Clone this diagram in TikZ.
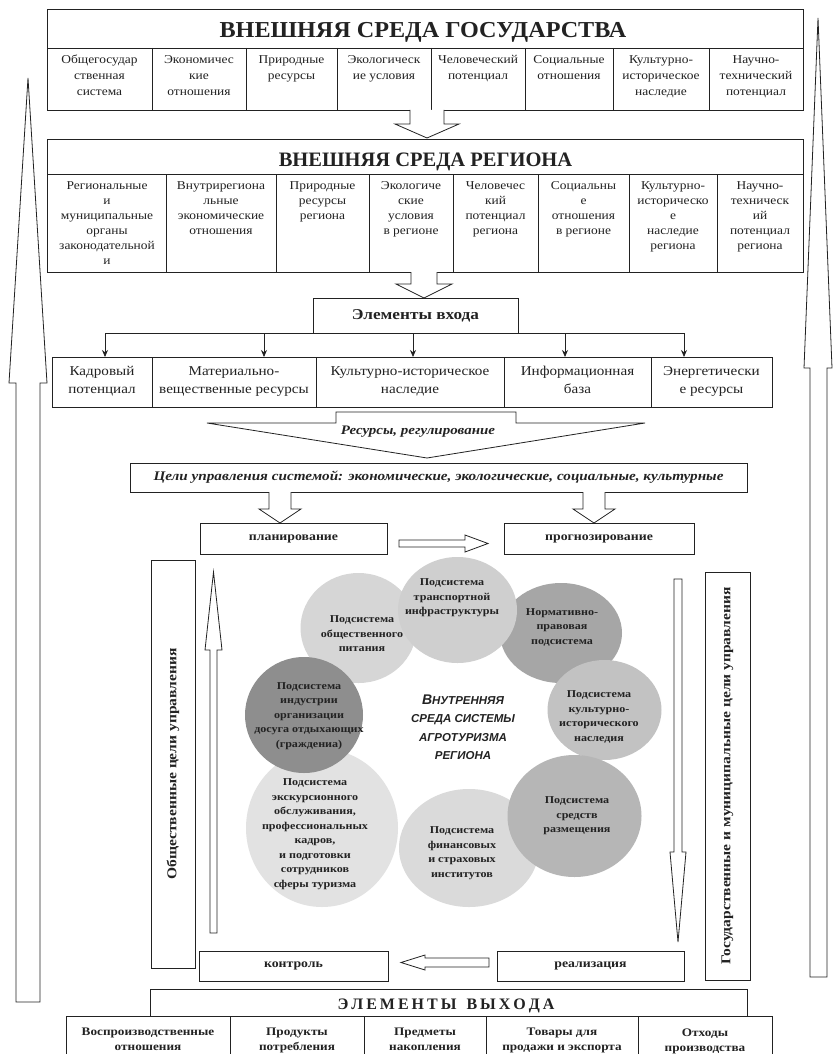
\documentclass[tikz,border=0pt]{standalone}
\usepackage{fontspec}
\setmainfont{Liberation Serif}
\newfontfamily\cellf[FakeStretch=1.12]{Liberation Serif}
\newfontfamily\boldf[FakeStretch=1.15]{Liberation Serif}
\newfontfamily\hdrf[FakeStretch=1.06]{Liberation Serif}
\newfontfamily\sansf{Liberation Sans}
\usetikzlibrary{arrows.meta,shapes.geometric}
\definecolor{cA}{HTML}{CFCFCF}
\definecolor{cB}{HTML}{D6D6D6}
\definecolor{cC}{HTML}{A6A6A6}
\definecolor{cD}{HTML}{C2C2C2}
\definecolor{cE}{HTML}{B6B6B6}
\definecolor{cF}{HTML}{DADADA}
\definecolor{cG}{HTML}{E2E2E2}
\definecolor{cH}{HTML}{8E8E8E}
\definecolor{ink}{HTML}{222222}
\begin{document}
\begin{tikzpicture}[x=1pt,y=-1pt,line width=0.8pt,color=ink,
  txt/.style={inner sep=0pt,align=center},
  topcell/.style={txt,anchor=north,font=\cellf\fontsize{12}{16}\selectfont},
  regcell/.style={txt,anchor=north,font=\cellf\fontsize{12}{15}\selectfont},
  incell/.style={txt,anchor=north,font=\cellf\fontsize{13.5}{18}\selectfont},
  boxb/.style={draw,inner sep=0pt,font=\boldf\bfseries\fontsize{12}{14}\selectfont},
  outcell/.style={txt,anchor=north,font=\boldf\bfseries\fontsize{11.5}{15}\selectfont},
  ctext/.style={txt,font=\boldf\bfseries\fontsize{10.5}{14.5}\selectfont},
  blob/.style={ellipse,inner sep=0pt},
  hollow/.style={draw,fill=white,line join=miter},
  downarr/.style={-{Stealth[length=7pt,width=6pt]}},
  sidebox/.style={draw,rotate=90,inner sep=0pt,font=\boldf\bfseries\fontsize{13.5}{16}\selectfont},
]
\fill[white] (0,0) rectangle (833,1054);
\useasboundingbox (0,0) rectangle (833,1054);

% big outer arrows
\draw[hollow] (16,1002) -- (16,383) -- (9,383) -- (28,78) -- (47,383) -- (40,383) -- (40,1002) -- cycle;
\draw[hollow] (810,977) -- (810,368) -- (804,368) -- (818,18) -- (832,368) -- (827,368) -- (827,977) -- cycle;

% state environment
\draw (47,9) rectangle (803,110);
\draw (47,48) -- (803,48);
\foreach \x in {152,246,337,431,525,613,709} \draw (\x,48) -- (\x,110);
\node[txt,anchor=base,font=\hdrf\bfseries\fontsize{22.8}{26}\selectfont] (gos) at (423,38) {ВНЕШНЯЯ СРЕДА ГОСУДАРСТВА};
\node[topcell] (g1) at (99.5,55) {Общегосудар\\ственная\\система};
\node[topcell] (g2) at (199,55) {Экономичес\\кие\\отношения};
\node[topcell] (g3) at (291.5,55) {Природные\\ресурсы};
\node[topcell] (g4) at (384,55) {Экологическ\\ие условия};
\node[topcell] (g5) at (478,55) {Человеческий\\потенциал};
\node[topcell] (g6) at (569,55) {Социальные\\отношения};
\node[topcell] (g7) at (661,55) {Культурно-\\историческое\\наследие};
\node[topcell] (g8) at (756,55) {Научно-\\технический\\потенциал};

\draw[hollow] (410,110) -- (410,124) -- (395,124) -- (427,138) -- (459,124) -- (444,124) -- (444,110);

% region environment
\draw (47,139) rectangle (803,272);
\draw (47,174) -- (803,174);
\foreach \x in {166,276,369,453,538,629,717} \draw (\x,174) -- (\x,272);
\node[txt,anchor=base,font=\bfseries\fontsize{20.5}{24}\selectfont] (reg) at (425.5,166) {ВНЕШНЯЯ СРЕДА РЕГИОНА};
\node[regcell] (r1) at (107,181) {Региональные\\и\\муниципальные\\органы\\законодательной\\и};
\node[regcell] (r2) at (221,181) {Внутрирегиона\\льные\\экономические\\отношения};
\node[regcell] (r3) at (322.5,181) {Природные\\ресурсы\\региона};
\node[regcell] (r4) at (411,181) {Экологиче\\ские\\условия\\в регионе};
\node[regcell] (r5) at (495.5,181) {Человечес\\кий\\потенциал\\региона};
\node[regcell] (r6) at (583.5,181) {Социальны\\е\\отношения\\в регионе};
\node[regcell] (r7) at (673,181) {Культурно-\\историческо\\е\\наследие\\региона};
\node[regcell] (r8) at (760,181) {Научно-\\техническ\\ий\\потенциал\\региона};

\draw[hollow] (411,272) -- (411,284) -- (396,284) -- (424,298) -- (452,284) -- (437,284) -- (437,272);

% input elements
\node[draw,minimum width=205pt,minimum height=35pt,inner sep=0pt,font=\boldf\bfseries\fontsize{15}{18}\selectfont] (ev) at (415.5,315.5) {Элементы входа};
\coordinate (b1) at (105,333);
\coordinate (b2) at (264,333);
\coordinate (b3) at (413,333);
\coordinate (b4) at (565,333);
\coordinate (b5) at (684,333);
\coordinate (i1) at (105,357);
\coordinate (i2) at (264,357);
\coordinate (i3) at (413,357);
\coordinate (i4) at (565,357);
\coordinate (i5) at (684,357);
\draw (b1) -- (b5);
\foreach \i in {1,...,5} \draw[downarr] (b\i) -- (i\i);
\draw (52,357) rectangle (772,407);
\foreach \x in {152,316,504,651} \draw (\x,357) -- (\x,407);
\node[incell] (in1) at (102,366) {Кадровый\\потенциал};
\node[incell] (in2) at (234,366) {Материально-\\вещественные ресурсы};
\node[incell] (in3) at (410,366) {Культурно-историческое\\наследие};
\node[incell] (in4) at (577.5,366) {Информационная\\база};
\node[incell] (in5) at (711.5,366) {Энергетически\\е ресурсы};

% resources arrow
\draw[line join=miter] (207,423) -- (336,423) -- (336,412) -- (516,412) -- (516,423) -- (645,423) -- (427,458) -- cycle;
\node[txt,font=\boldf\bfseries\itshape\fontsize{13}{15}\selectfont] (res) at (418,432) {Ресурсы, регулирование};

% goals
\node[draw,minimum width=617pt,minimum height=29pt,inner sep=0pt,font=\boldf\bfseries\itshape\fontsize{13.2}{15}\selectfont] (goals) at (438.5,477.5) {Цели управления системой: экономические, экологические, социальные, культурные};

\draw[hollow] (269,492) -- (269,509) -- (259,509) -- (280,523) -- (301,509) -- (291,509) -- (291,492);
\draw[hollow] (583,492) -- (583,509) -- (573,509) -- (594,523) -- (615,509) -- (605,509) -- (605,492);

\node[boxb,minimum width=187pt,minimum height=31pt] (plan) at (293.5,538.5) {планирование};
\node[boxb,minimum width=190pt,minimum height=31pt] (prog) at (599,538.5) {прогнозирование};
\draw[hollow] (399,540) -- (465,540) -- (465,535) -- (488,543.5) -- (465,552) -- (465,547) -- (399,547) -- cycle;

% side boxes and inner arrows
\node[sidebox,minimum width=408pt,minimum height=44pt] (lbox) at (173,764) {Общественные цели управления};
\node[sidebox,minimum width=408pt,minimum height=45pt] (rbox) at (727.5,776) {Государственные и муниципальные цели управления};
\draw[hollow] (210,933) -- (210,650) -- (205,650) -- (213.5,572) -- (222,650) -- (217,650) -- (217,933) -- cycle;
\draw[hollow] (674,579) -- (674,852) -- (670,852) -- (678,942) -- (686,852) -- (682,852) -- (682,579) -- cycle;

% circles
\node[blob,fill=cB,minimum width=116pt,minimum height=110pt] (cb) at (358.5,628) {};
\node[blob,fill=cC,minimum width=122pt,minimum height=100pt] (cc) at (561,633) {};
\node[blob,fill=cA,minimum width=119pt,minimum height=106pt] (ca) at (457.5,610) {};
\node[blob,fill=cD,minimum width=114pt,minimum height=100pt] (cd) at (604.5,710) {};
\node[blob,fill=cF,minimum width=140pt,minimum height=118pt] (cf) at (469,848) {};
\node[blob,fill=cE,minimum width=134pt,minimum height=122pt] (ce) at (574.5,816) {};
\node[blob,fill=cG,minimum width=152pt,minimum height=158pt] (cg) at (322,828) {};
\node[blob,fill=cH,minimum width=118pt,minimum height=116pt] (ch) at (304,715) {};

\node[ctext] (ta) at (452,598) {Подсистема\\транспортной\\инфраструктуры};
\node[ctext] (tb) at (362,634) {Подсистема\\общественного\\питания};
\node[ctext] (tc) at (562,627) {Нормативно-\\правовая\\подсистема};
\node[ctext] (td) at (599,717) {Подсистема\\культурно-\\исторического\\наследия};
\node[ctext] (te) at (577,816) {Подсистема\\средств\\размещения};
\node[ctext] (tf) at (462,853) {Подсистема\\финансовых\\и страховых\\институтов};
\node[ctext] (tg) at (315,834) {Подсистема\\экскурсионного\\обслуживания,\\профессиональных\\кадров,\\и подготовки\\сотрудников\\сферы туризма};
\node[ctext] (th) at (309,716) {Подсистема\\индустрии\\организации\\досуга отдыхающих\\(граждениа)};
\node[txt,font=\sansf\bfseries\itshape\fontsize{11.5}{18.5}\selectfont] (inner) at (463,727) {{\fontsize{14}{18.5}\selectfont В}НУТРЕННЯЯ\\СРЕДА СИСТЕМЫ\\АГРОТУРИЗМА\\РЕГИОНА};

% control / realisation
\node[boxb,minimum width=189pt,minimum height=30pt] (ctrl) at (293.5,966) {контроль};
\node[boxb,minimum width=187pt,minimum height=30pt] (real) at (590.5,966) {реализация};
\draw[hollow] (489,958) -- (425,958) -- (425,955) -- (401,962.5) -- (425,970) -- (425,967) -- (489,967) -- cycle;

% output elements
\node[draw,minimum width=597pt,minimum height=27pt,inner sep=0pt] (out) at (448.5,1002.5) {};
\node[txt,font=\bfseries\fontsize{16}{18}\selectfont] (outt) at (446,1006) {Э\kern3ptЛ\kern3ptЕ\kern3ptМ\kern3ptЕ\kern3ptН\kern3ptТ\kern3ptЫ\kern3pt\ \kern3ptВ\kern3ptЫ\kern3ptХ\kern3ptО\kern3ptД\kern3ptА};
\draw (66,1055) -- (66,1016) -- (772,1016) -- (772,1055);
\foreach \x in {230,364,486,638} \draw (\x,1016) -- (\x,1055);
\node[outcell] (o1) at (148,1028) {Воспроизводственные\\отношения};
\node[outcell] (o2) at (297,1028) {Продукты\\потребления};
\node[outcell] (o3) at (425,1028) {Предметы\\накопления};
\node[outcell] (o4) at (562,1028) {Товары для\\продажи и экспорта};
\node[outcell] (o5) at (705,1028) {Отходы\\производства};
\end{tikzpicture}
\end{document}
